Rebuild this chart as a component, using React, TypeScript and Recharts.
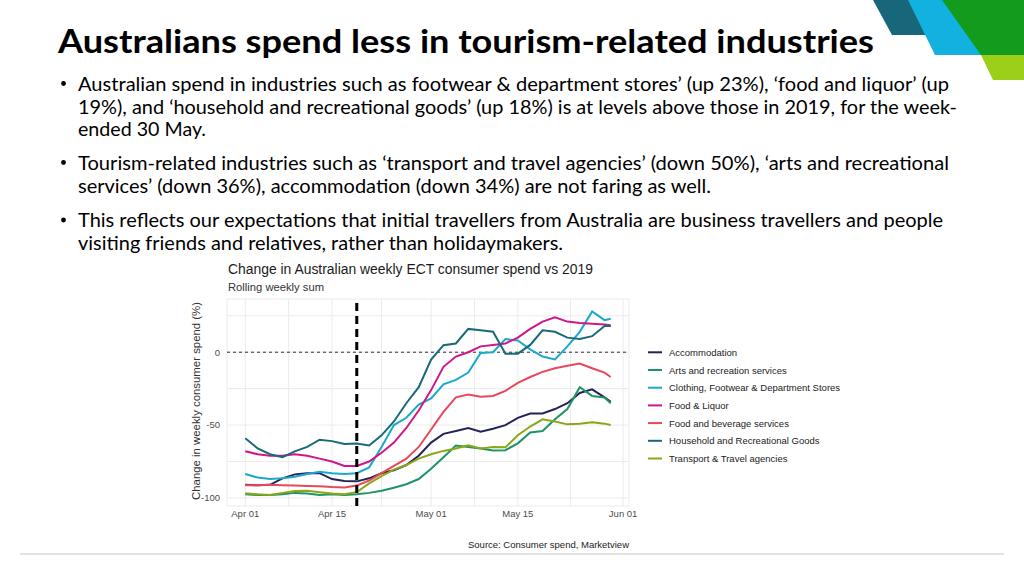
import { LineChart, Line, XAxis, YAxis, CartesianGrid, ReferenceLine } from "recharts";

// days since Apr 01 (2020)
const days = [0, 2, 4, 6, 8, 10, 12, 14, 16, 18, 20, 22, 24, 26, 28, 30, 32, 34, 36, 38, 40, 42, 44, 46, 48, 50, 52, 54, 56, 58, 59];

const accommodation = [-91, -91.3, -91, -86.5, -83.8, -83, -83, -87, -88.4, -88.6, -86.5, -83, -81, -77.4, -71, -62, -56, -54, -52, -54.5, -52.5, -50, -45, -42, -42, -39, -35, -28, -25.5, -31, -34];
const arts = [-97.5, -98, -98, -97.5, -96.5, -97, -98, -97.5, -98, -97.5, -96.5, -95, -93, -90.6, -87, -80, -72, -64, -65, -66, -67.5, -67.2, -62.5, -55, -54, -46, -39, -24, -30, -31, -35];
const clothing = [-83.6, -86, -87, -86.5, -85.5, -83.5, -82, -83, -83.5, -83, -79, -65, -50, -45, -36, -31.7, -22, -19, -14, -0.5, 0, 9, 8, 2, -3, -5, 4, 14, 28, 22, 23];
const foodLiquor = [-68, -70, -71, -71, -70, -71, -73, -75, -78, -78, -75, -69, -62, -52, -40, -26, -10, -3, 0, 4, 5, 6, 10, 16, 21, 24, 21, 20, 19.5, 19, 18.5];
const foodBeverage = [-91.3, -91.2, -91, -91.3, -91.5, -91.7, -92, -92.5, -92.8, -91.5, -88, -83, -78, -73, -65, -53, -41, -31, -29, -30.5, -30, -26.5, -21, -17, -13.5, -11, -9.3, -7.8, -11, -14, -17];
const household = [-59, -66, -70, -72, -68, -65, -60, -61, -63, -62.6, -64, -57, -47.5, -35, -24, -5, 4.8, 6, 16, 15, 14, -1, -1, 5, 15, 14, 10, 9, 11, 18, 18];
const transport = [-96.8, -97.5, -98, -96.5, -95.2, -95, -96, -97, -97.5, -96, -90, -85, -80.5, -77.4, -73, -70, -67.7, -66, -63.8, -66, -65, -65.2, -57, -51, -46, -47.5, -49.5, -49, -48, -49, -50];

const xTicks = [0, 7, 14, 22, 30, 37, 44, 52.5, 61];
const xTickLabels: Record<string, string> = { "0": "Apr 01", "14": "Apr 15", "30": "May 01", "44": "May 15", "61": "Jun 01" };
const yTicks = [-100, -75, -50, -25, 0, 25];
const yTickLabels: Record<string, string> = { "-100": "-100", "-50": "-50", "0": "0" };
const borderReopenDay = 18;

const series = [
  { key: "accommodation", label: "Accommodation", color: "#23235a", values: accommodation },
  { key: "arts", label: "Arts and recreation services", color: "#1f9466", values: arts },
  { key: "clothing", label: "Clothing, Footwear & Department Stores", color: "#1aa9cb", values: clothing },
  { key: "foodLiquor", label: "Food & Liquor", color: "#cf168c", values: foodLiquor },
  { key: "foodBeverage", label: "Food and beverage services", color: "#e8485b", values: foodBeverage },
  { key: "household", label: "Household and Recreational Goods", color: "#176a79", values: household },
  { key: "transport", label: "Transport & Travel agencies", color: "#8ca715", values: transport },
];

const data = days.map((d, i) => {
  const row: Record<string, number> = { day: d };
  series.forEach((s) => (row[s.key] = s.values[i]));
  return row;
});

const bullets = [
  [
    "Australian spend in industries such as footwear & department stores’ (up 23%), ‘food and liquor’ (up",
    "19%), and ‘household and recreational goods’ (up 18%) is at levels above those in 2019, for the week-",
    "ended 30 May.",
  ],
  [
    "Tourism-related industries such as ‘transport and travel agencies’ (down 50%), ‘arts and recreational",
    "services’ (down 36%), accommodation (down 34%) are not faring as well.",
  ],
  [
    "This reflects our expectations that initial travellers from Australia are business travellers and people",
    "visiting friends and relatives, rather than holidaymakers.",
  ],
];
const lineBaselines = [[90.5, 113.5, 136], [169.5, 193], [227, 250]];
const lineWidths = [[871, 879, 128], [871, 633], [865, 485]];
const bulletY = [83.5, 162.5, 220];

const sans = "Liberation Sans, Arial, sans-serif";
const slideFont = "Lato, 'Open Sans', sans-serif";

export default function App() {
  return (
    <div style={{ position: "absolute", left: 0, top: 0, width: 1024, height: 576, background: "#fff", overflow: "hidden" }}>
      <svg width={1024} height={576} style={{ position: "absolute", left: 0, top: 0 }}>
        {/* corner decoration */}
        <polygon points="873,0 912,0 932,35 892,35" fill="#17667a" />
        <polygon points="908,0 946,0 983,55 935,55" fill="#12b1e0" />
        <polygon points="942,0 1024,0 1024,55 981,55" fill="#139b1d" />
        <polygon points="981,55 1024,55 1024,80 993,80" fill="#9ccf1a" />

        <text x={58} y={52.5} fontFamily={slideFont} fontWeight={700} fontSize={33} fill="#000" textLength={816} lengthAdjust="spacingAndGlyphs">
          Australians spend less in tourism-related industries
        </text>

        {bullets.map((lines, b) => (
          <g key={b}>
            <circle cx={63.5} cy={bulletY[b]} r={2.4} fill="#000" />
            {lines.map((t, i) => (
              <text key={i} x={78} y={lineBaselines[b][i]} fontFamily={slideFont} fontSize={20} fill="#000" textLength={lineWidths[b][i]} lengthAdjust="spacingAndGlyphs">
                {t}
              </text>
            ))}
          </g>
        ))}

        <text x={228} y={273.5} fontFamily={sans} fontSize={14} fill="#1a1a1a" textLength={365} lengthAdjust="spacingAndGlyphs">
          Change in Australian weekly ECT consumer spend vs 2019
        </text>
        <text x={228} y={291} fontFamily={sans} fontSize={11} fill="#333" textLength={96} lengthAdjust="spacingAndGlyphs">
          Rolling weekly sum
        </text>
        <text transform="translate(199.5,401) rotate(-90)" textAnchor="middle" fontFamily={sans} fontSize={11} fill="#333" textLength={198} lengthAdjust="spacingAndGlyphs">
          Change in weekly consumer spend (%)
        </text>

        {series.map((s, i) => (
          <g key={s.key}>
            <line x1={648} x2={662} y1={352.3 + i * 17.7} y2={352.3 + i * 17.7} stroke={s.color} strokeWidth={2} />
            <text x={669} y={352.3 + i * 17.7} dominantBaseline="central" fontFamily={sans} fontSize={9.5} fill="#222">
              {s.label}
            </text>
          </g>
        ))}

        <text x={468} y={547.5} fontFamily={sans} fontSize={9.5} fill="#222" textLength={161} lengthAdjust="spacingAndGlyphs">
          Source: Consumer spend, Marketview
        </text>
        <line x1={20} x2={1004} y1={554} y2={554} stroke="#d9d9d9" strokeWidth={1.5} />
      </svg>

      <div style={{ position: "absolute", left: 180, top: 290 }}>
        <LineChart width={460} height={240} data={data} margin={{ top: 9, right: 11, bottom: 4, left: 7 }}>
          <CartesianGrid stroke="#ebebeb" strokeWidth={1} />
          <XAxis
            dataKey="day"
            type="number"
            domain={[-2.95, 61.95]}
            ticks={xTicks}
            interval={0}
            allowDataOverflow
            axisLine={false}
            tickLine={false}
            tickSize={0}
            tickMargin={4}
            height={20}
            tickFormatter={(v) => xTickLabels[String(v)] ?? ""}
            tick={{ fontSize: 9.5, fill: "#4d4d4d", fontFamily: sans }}
          />
          <YAxis
            type="number"
            domain={[-105.5, 36.5]}
            ticks={yTicks}
            interval={0}
            allowDataOverflow
            axisLine={false}
            tickLine={false}
            tickSize={0}
            tickMargin={7}
            width={40}
            tickFormatter={(v) => yTickLabels[String(v)] ?? ""}
            tick={{ fontSize: 9.5, fill: "#4d4d4d", fontFamily: sans }}
          />
          <ReferenceLine y={0} stroke="#000" strokeWidth={0.8} strokeDasharray="3 3" />
          {series.map((s) => (
            <Line
              key={s.key}
              type="linear"
              dataKey={s.key}
              stroke={s.color}
              strokeWidth={2}
              dot={false}
              isAnimationActive={false}
            />
          ))}
          <ReferenceLine x={borderReopenDay} stroke="#000" strokeWidth={3} strokeDasharray="8 5" />
        </LineChart>
      </div>
    </div>
  );
}
